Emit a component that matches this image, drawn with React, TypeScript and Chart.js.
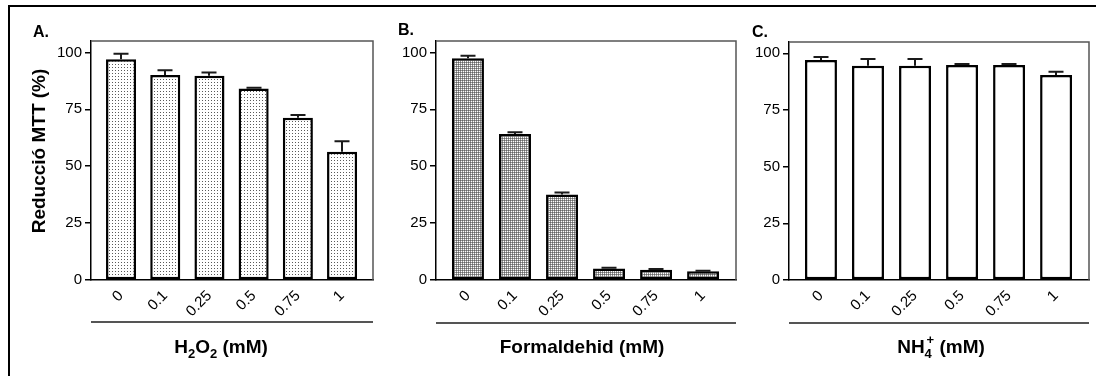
import React, { useEffect, useRef } from "react";
import { Chart, registerables } from "chart.js";

Chart.register(...registerables);

// ---------- data ----------
const categories = ["0", "0.1", "0.25", "0.5", "0.75", "1"];
const xIndex = [0, 1, 2, 3, 4, 5];
const yTicks = [0, 25, 50, 75, 100];

const h2o2Means = [97.0, 90.1, 89.7, 84.1, 71.3, 56.3];
const h2o2Errors = [2.4, 2.0, 1.5, 0.4, 1.2, 4.7];

const formaldehidMeans = [97.4, 64.1, 37.6, 5.1, 4.5, 3.8];
const formaldehidErrors = [1.1, 0.8, 0.8, 0.3, 0.3, 0.3];

const ammoniumMeans = [97.1, 94.5, 94.5, 94.9, 94.9, 90.4];
const ammoniumErrors = [1.3, 3.0, 3.0, 0.4, 0.4, 1.5];

const panelLabels = ["A.", "B.", "C."];
const yAxisTitle = "Reducció MTT (%)";

type Seg = { text: string; sub?: boolean; sup?: boolean };
const h2o2Title: Seg[] = [
  { text: "H" },
  { text: "2", sub: true },
  { text: "O" },
  { text: "2", sub: true },
  { text: " (mM)" },
];
const formaldehidTitle: Seg[] = [{ text: "Formaldehid (mM)" }];
const ammoniumTitle: Seg[] = [
  { text: "NH" },
  { text: "4", sub: true },
  { text: "+", sup: true },
  { text: " (mM)" },
];

// ---------- styling / layout ----------
const FONT = "'Liberation Sans', Arial, Helvetica, sans-serif";
const TICK_SIZE = 15;
const TITLE_SIZE = 19;
const Y_MAX = 105;
const X_MIN = -0.68;
const X_MAX = 5.7;

type PanelCfg = {
  left: number;
  width: number;
  yAxisWidth: number;
  padTop: number;
  padRight: number;
  means: number[];
  errors: number[];
  fill: "dots" | "grid" | "white";
  label: string;
  labelX: number;
  labelY: number;
  title: Seg[];
  titleCx: number;
  titleY: number;
  lineY: number;
  yTitle?: { x: number; y: number };
};

const panels: PanelCfg[] = [
  {
    left: 12, width: 368, yAxisWidth: 79, padTop: 41, padRight: 7,
    means: h2o2Means, errors: h2o2Errors, fill: "dots",
    label: panelLabels[0], labelX: 33, labelY: 37,
    title: h2o2Title, titleCx: 221, titleY: 353, lineY: 322,
    yTitle: { x: 40, y: 151 },
  },
  {
    left: 380, width: 362, yAxisWidth: 56, padTop: 41, padRight: 6,
    means: formaldehidMeans, errors: formaldehidErrors, fill: "grid",
    label: panelLabels[1], labelX: 398, labelY: 35,
    title: formaldehidTitle, titleCx: 582, titleY: 353, lineY: 323,
  },
  {
    left: 742, width: 354, yAxisWidth: 47, padTop: 42, padRight: 7,
    means: ammoniumMeans, errors: ammoniumErrors, fill: "white",
    label: panelLabels[2], labelX: 752, labelY: 37,
    title: ammoniumTitle, titleCx: 941, titleY: 353, lineY: 323,
  },
];

function makePattern(kind: "dots" | "grid" | "white"): CanvasPattern | string {
  if (kind === "white") return "#ffffff";
  const c = document.createElement("canvas");
  const n = kind === "dots" ? 3 : 2;
  c.width = n;
  c.height = n;
  const g = c.getContext("2d")!;
  g.fillStyle = "#ffffff";
  g.fillRect(0, 0, n, n);
  if (kind === "dots") {
    g.fillStyle = "#5a5a5a";
    g.fillRect(1, 1, 1, 1);
  } else {
    g.fillStyle = "#666666";
    g.fillRect(0, 0, 1, 1);
    g.fillStyle = "#969696";
    g.fillRect(1, 0, 1, 1);
    g.fillRect(0, 1, 1, 1);
  }
  const p = g.createPattern(c, "repeat");
  return p || "#cccccc";
}

function drawRich(ctx: CanvasRenderingContext2D, segs: Seg[], cx: number, y: number) {
  const main = `bold ${TITLE_SIZE}px ${FONT}`;
  const small = `bold 13px ${FONT}`;
  const widths: number[] = [];
  segs.forEach((s) => {
    ctx.font = s.sub || s.sup ? small : main;
    widths.push(ctx.measureText(s.text).width);
  });
  const stacked = (i: number) => !!segs[i].sup && i > 0 && !!segs[i - 1].sub;
  const adv: number[] = segs.map((s, i) =>
    stacked(i) ? Math.max(0, widths[i] - widths[i - 1] + 2) : widths[i]
  );
  const total = adv.reduce((a, b) => a + b, 0);
  let x = cx - total / 2;
  ctx.textBaseline = "alphabetic";
  ctx.textAlign = "left";
  ctx.fillStyle = "#000";
  segs.forEach((s, i) => {
    ctx.font = s.sub || s.sup ? small : main;
    let dy = 0;
    let dx = 0;
    if (s.sub) dy = 5;
    if (s.sup) {
      dy = -9;
      if (stacked(i)) dx = -widths[i - 1] + 2;
    }
    ctx.fillText(s.text, x + dx, y + dy);
    x += adv[i];
  });
}

function makeDeco(cfg: PanelCfg) {
  return {
    id: "deco",
    afterDatasetsDraw(chart: any) {
      const { ctx } = chart;
      const yScale = chart.scales.y;
      const meta = chart.getDatasetMeta(0);
      ctx.save();
      ctx.strokeStyle = "#1a1a1a";
      ctx.lineWidth = 2;
      meta.data.forEach((el: any, i: number) => {
        const top = yScale.getPixelForValue(cfg.means[i] + cfg.errors[i]);
        const x = Math.round(el.x);
        ctx.beginPath();
        ctx.moveTo(x, el.y);
        ctx.lineTo(x, top);
        ctx.moveTo(x - 7.5, top);
        ctx.lineTo(x + 7.5, top);
        ctx.stroke();
      });
      ctx.restore();
    },
    afterDraw(chart: any) {
      const { ctx, chartArea: ca } = chart;
      const off = cfg.left;
      ctx.save();
      ctx.strokeStyle = "#555";
      ctx.lineWidth = 1.5;
      ctx.beginPath();
      ctx.moveTo(ca.left, ca.top);
      ctx.lineTo(ca.right, ca.top);
      ctx.lineTo(ca.right, ca.bottom);
      ctx.stroke();
      ctx.strokeStyle = "#555";
      ctx.lineWidth = 2;
      ctx.beginPath();
      ctx.moveTo(ca.left, cfg.lineY);
      ctx.lineTo(ca.right, cfg.lineY);
      ctx.stroke();
      drawRich(ctx, cfg.title, cfg.titleCx - off, cfg.titleY);
      ctx.fillStyle = "#000";
      ctx.font = `bold 16px ${FONT}`;
      ctx.textAlign = "left";
      ctx.textBaseline = "alphabetic";
      ctx.fillText(cfg.label, cfg.labelX - off, cfg.labelY);
      if (cfg.yTitle) {
        ctx.translate(cfg.yTitle.x - off, cfg.yTitle.y);
        ctx.rotate(-Math.PI / 2);
        ctx.font = `bold ${TITLE_SIZE}px ${FONT}`;
        ctx.textAlign = "center";
        ctx.textBaseline = "middle";
        ctx.fillText(yAxisTitle, 0, 0);
      }
      ctx.restore();
    },
  };
}

function Panel({ cfg }: { cfg: PanelCfg }) {
  const ref = useRef<HTMLCanvasElement | null>(null);
  useEffect(() => {
    if (!ref.current) return;
    const fill = makePattern(cfg.fill);
    const chart = new Chart(ref.current, {
      type: "bar",
      data: {
        datasets: [
          {
            data: xIndex.map((x, i) => ({ x, y: cfg.means[i] })),
            backgroundColor: fill as any,
            borderColor: "#000",
            borderWidth: 2.5,
            borderSkipped: false,
            barPercentage: 0.68,
            categoryPercentage: 1,
          },
        ],
      },
      options: {
        responsive: false,
        animation: false,
        devicePixelRatio: 1,
        events: [],
        layout: {
          autoPadding: false,
          padding: { top: cfg.padTop, right: cfg.padRight, bottom: 56, left: 0 },
        },
        plugins: { legend: { display: false }, tooltip: { enabled: false } },
        scales: {
          x: {
            type: "linear",
            min: X_MIN,
            max: X_MAX,
            offset: false,
            afterBuildTicks: (s: any) => {
              s.ticks = xIndex.map((v) => ({ value: v }));
            },
            afterFit: (s: any) => {
              s.height = 40;
            },
            grid: { display: false, drawTicks: false },
            border: { display: true, color: "#000", width: 1.5 },
            ticks: {
              autoSkip: false,
              minRotation: 45,
              maxRotation: 45,
              padding: 7,
              color: "#000",
              font: { family: FONT, size: TICK_SIZE },
              callback: (_v: any, i: number) => categories[i],
            },
          },
          y: {
            min: 0,
            max: Y_MAX,
            afterBuildTicks: (s: any) => {
              s.ticks = yTicks.map((v) => ({ value: v }));
            },
            afterFit: (s: any) => {
              s.width = cfg.yAxisWidth;
            },
            grid: {
              drawOnChartArea: false,
              drawTicks: true,
              tickLength: 6,
              color: "#000",
              lineWidth: 1.5,
            },
            border: { display: true, color: "#000", width: 1.5 },
            ticks: {
              padding: 3,
              color: "#000",
              font: { family: FONT, size: TICK_SIZE },
            },
          },
        },
      },
      plugins: [makeDeco(cfg)],
    });
    return () => chart.destroy();
  }, [cfg]);
  return (
    <canvas
      ref={ref}
      width={cfg.width}
      height={376}
      style={{ position: "absolute", left: cfg.left, top: 0, width: cfg.width, height: 376 }}
    />
  );
}

export default function App() {
  return (
    <div
      style={{
        position: "absolute",
        left: 0,
        top: 0,
        width: 1096,
        height: 376,
        overflow: "hidden",
        background: "#fff",
      }}
    >
      <div
        style={{
          position: "absolute",
          left: 8,
          top: 5,
          width: 1200,
          height: 500,
          borderTop: "2px solid #000",
          borderLeft: "2px solid #000",
        }}
      />
      {panels.map((p, i) => (
        <Panel key={i} cfg={p} />
      ))}
    </div>
  );
}
